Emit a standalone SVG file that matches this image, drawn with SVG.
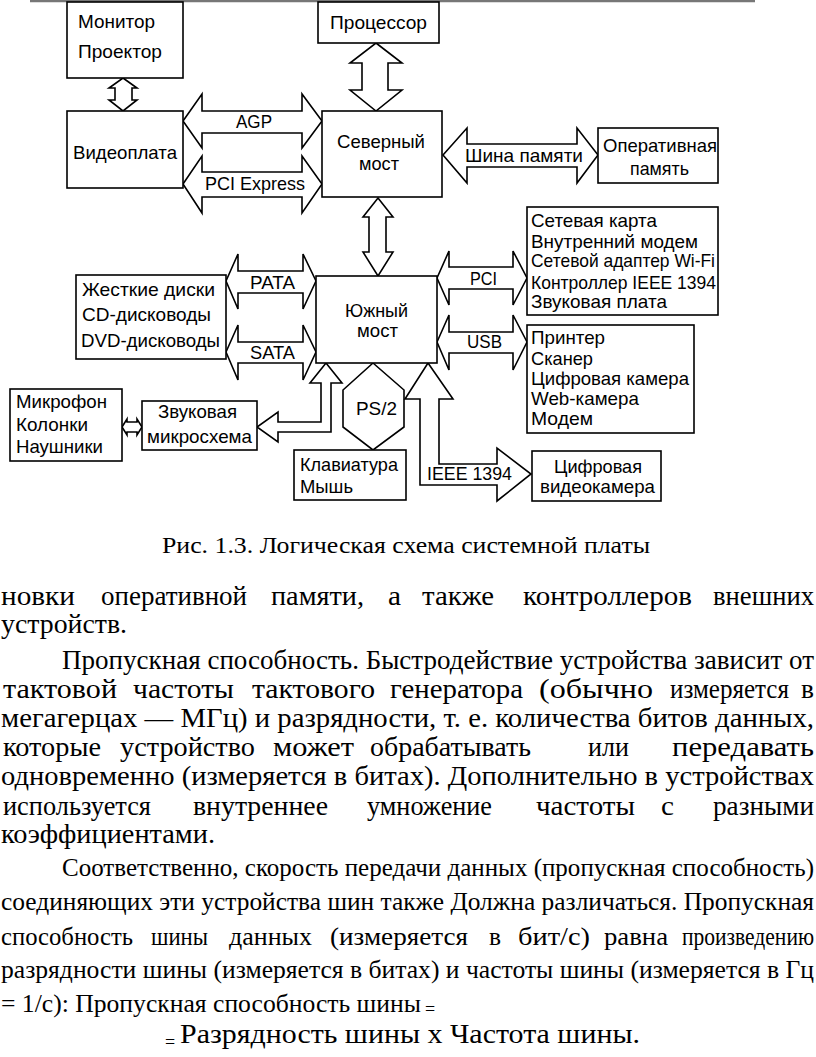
<svg xmlns="http://www.w3.org/2000/svg" width="816" height="1057" viewBox="0 0 816 1057">
<style>
.box{fill:#fff;stroke:#000;stroke-width:1.6}
.arr{fill:#fff;stroke:#000;stroke-width:1.6;stroke-linejoin:miter}
.lbl{font-family:"Liberation Sans",Arial,sans-serif;font-size:19px;fill:#000}
.body{font-family:"Liberation Serif","Times New Roman",serif;font-size:28px;fill:#000}
.body2{font-family:"Liberation Serif","Times New Roman",serif;font-size:26px;fill:#000}
.cap{font-family:"Liberation Serif","Times New Roman",serif;font-size:24px;fill:#000}
</style>
<rect width="816" height="1057" fill="#fff"/>
<line x1="30" y1="1" x2="755" y2="1" stroke="#777" stroke-width="2.5"/>

<g id="connectors">
  <polygon class="arr" points="123,78 137,88 132,88 132,100 137,100 123,111 109,100 115,100 115,88 109,88"/>
  <polygon class="arr" points="376,43 402,63 388,63 388,90 402,90 376,111 350,90 362,90 362,63 350,63"/>
  <polygon class="arr" points="183,121 202,94 202,111 302,111 302,94 322,121 302,148 302,133 202,133 202,148"/>
  <polygon class="arr" points="183,184 202,156 202,172 302,172 302,156 322,184 302,213 302,197 202,197 202,213"/>
  <polygon class="arr" points="443,155 467,128 467,144 577,144 577,128 598,155 577,183 577,167 467,167 467,183"/>
  <polygon class="arr" points="378,198 393,217 386,217 386,252 393,252 378,276 363,252 369,252 369,217 363,217"/>
  <polygon class="arr" points="226,281 238,254 238,271 303,271 303,254 316,281 303,309 303,293 238,293 238,309"/>
  <polygon class="arr" points="226,352 238,325 238,342 303,342 303,325 316,352 303,380 303,363 238,363 238,380"/>
  <polygon class="arr" points="437,278 449,251 449,267 513,267 513,251 527,278 513,305 513,289 449,289 449,305"/>
  <polygon class="arr" points="437,342 449,315 449,332 513,332 513,315 527,342 513,370 513,353 449,353 449,370"/>
  <polygon class="arr" points="326,363 342,383 331,383 331,432 278,432 278,442 257,427 278,412 278,422 321,422 321,383 310,383"/>
  <polygon class="arr" points="122,427 127,419 127,422 137,422 137,419 142,427 137,435 137,432 127,432 127,435"/>
  <polygon class="arr" points="373,363 404,390 404,427 373,450 343,427 343,390"/>
  <polygon class="arr" points="428,363 453,399 439,399 439,464 497,464 497,448 531,474 497,501 497,485 420,485 420,399 405,399"/>
  <line x1="328" y1="353" x2="335" y2="357" stroke="#000" stroke-width="1.5"/>
  <text class="lbl" x="236" y="128" textLength="36" lengthAdjust="spacingAndGlyphs">AGP</text>
  <text class="lbl" x="205" y="190" textLength="100" lengthAdjust="spacingAndGlyphs">PCI Express</text>
  <text class="lbl" x="465" y="162" textLength="118" lengthAdjust="spacingAndGlyphs">Шина памяти</text>
  <text class="lbl" x="250" y="289" textLength="45" lengthAdjust="spacingAndGlyphs">PATA</text>
  <text class="lbl" x="250" y="359" textLength="45" lengthAdjust="spacingAndGlyphs">SATA</text>
  <text class="lbl" x="470" y="285" textLength="27" lengthAdjust="spacingAndGlyphs">PCI</text>
  <text class="lbl" x="467" y="348" textLength="35" lengthAdjust="spacingAndGlyphs">USB</text>
  <text class="lbl" x="356" y="415" textLength="41" lengthAdjust="spacingAndGlyphs">PS/2</text>
  <text class="lbl" x="427" y="480" textLength="85" lengthAdjust="spacingAndGlyphs">IEEE 1394</text>
</g>

<g id="monitor">
  <rect class="box" x="67" y="2" width="116" height="76"/>
  <text class="lbl" x="78" y="28" textLength="77" lengthAdjust="spacingAndGlyphs">Монитор</text>
  <text class="lbl" x="78" y="58" textLength="84" lengthAdjust="spacingAndGlyphs">Проектор</text>
</g>
<g id="processor">
  <rect class="box" x="318" y="2" width="121" height="41"/>
  <text class="lbl" x="330" y="29" textLength="97" lengthAdjust="spacingAndGlyphs">Процессор</text>
</g>
<g id="videocard">
  <rect class="box" x="67" y="111" width="116" height="77"/>
  <text class="lbl" x="73" y="159" textLength="104" lengthAdjust="spacingAndGlyphs">Видеоплата</text>
</g>
<g id="northbridge">
  <rect class="box" x="322" y="111" width="120" height="86"/>
  <text class="lbl" x="337" y="148" textLength="88" lengthAdjust="spacingAndGlyphs">Северный</text>
  <text class="lbl" x="359" y="170" textLength="40" lengthAdjust="spacingAndGlyphs">мост</text>
</g>
<g id="ram">
  <rect class="box" x="598" y="128" width="120" height="55"/>
  <text class="lbl" x="603" y="152" textLength="114" lengthAdjust="spacingAndGlyphs">Оперативная</text>
  <text class="lbl" x="630" y="175" textLength="59" lengthAdjust="spacingAndGlyphs">память</text>
</g>
<g id="storage">
  <rect class="box" x="76" y="275" width="150" height="84"/>
  <text class="lbl" x="82" y="296" textLength="133" lengthAdjust="spacingAndGlyphs">Жесткие диски</text>
  <text class="lbl" x="82" y="321" textLength="129" lengthAdjust="spacingAndGlyphs">CD-дисководы</text>
  <text class="lbl" x="81" y="347" textLength="139" lengthAdjust="spacingAndGlyphs">DVD-дисководы</text>
</g>
<g id="southbridge">
  <rect class="box" x="316" y="276" width="121" height="87"/>
  <text class="lbl" x="345" y="317" textLength="63" lengthAdjust="spacingAndGlyphs">Южный</text>
  <text class="lbl" x="357" y="337" textLength="41" lengthAdjust="spacingAndGlyphs">мост</text>
</g>
<g id="pcidevices">
  <rect class="box" x="527" y="207" width="191" height="108"/>
  <text class="lbl" x="531" y="227" textLength="126" lengthAdjust="spacingAndGlyphs">Сетевая карта</text>
  <text class="lbl" x="531" y="248" textLength="167" lengthAdjust="spacingAndGlyphs">Внутренний модем</text>
  <text class="lbl" x="531" y="267" textLength="184" lengthAdjust="spacingAndGlyphs">Сетевой адаптер Wi-Fi</text>
  <text class="lbl" x="531" y="289" textLength="185" lengthAdjust="spacingAndGlyphs">Контроллер IEEE 1394</text>
  <text class="lbl" x="531" y="308" textLength="136" lengthAdjust="spacingAndGlyphs">Звуковая плата</text>
</g>
<g id="usbdevices">
  <rect class="box" x="527" y="325" width="167" height="108"/>
  <text class="lbl" x="531" y="344" textLength="74" lengthAdjust="spacingAndGlyphs">Принтер</text>
  <text class="lbl" x="531" y="365" textLength="62" lengthAdjust="spacingAndGlyphs">Сканер</text>
  <text class="lbl" x="531" y="385" textLength="158" lengthAdjust="spacingAndGlyphs">Цифровая камера</text>
  <text class="lbl" x="531" y="405" textLength="108" lengthAdjust="spacingAndGlyphs">Web-камера</text>
  <text class="lbl" x="531" y="425" textLength="62" lengthAdjust="spacingAndGlyphs">Модем</text>
</g>
<g id="audio">
  <rect class="box" x="10" y="389" width="112" height="72"/>
  <text class="lbl" x="16" y="408" textLength="91" lengthAdjust="spacingAndGlyphs">Микрофон</text>
  <text class="lbl" x="16" y="431" textLength="72" lengthAdjust="spacingAndGlyphs">Колонки</text>
  <text class="lbl" x="16" y="453" textLength="87" lengthAdjust="spacingAndGlyphs">Наушники</text>
</g>
<g id="soundchip">
  <rect class="box" x="142" y="401" width="115" height="49"/>
  <text class="lbl" x="158" y="418" textLength="79" lengthAdjust="spacingAndGlyphs">Звуковая</text>
  <text class="lbl" x="147" y="443" textLength="105" lengthAdjust="spacingAndGlyphs">микросхема</text>
</g>
<g id="keyboard">
  <rect class="box" x="294" y="450" width="112" height="50"/>
  <text class="lbl" x="300" y="471" textLength="98" lengthAdjust="spacingAndGlyphs">Клавиатура</text>
  <text class="lbl" x="300" y="493" textLength="53" lengthAdjust="spacingAndGlyphs">Мышь</text>
</g>
<g id="videocamera">
  <rect class="box" x="532" y="451" width="129" height="50"/>
  <text class="lbl" x="554" y="473" textLength="88" lengthAdjust="spacingAndGlyphs">Цифровая</text>
  <text class="lbl" x="540" y="493" textLength="115" lengthAdjust="spacingAndGlyphs">видеокамера</text>
</g>

<g id="caption">
  <text class="cap" x="162" y="553" textLength="488" lengthAdjust="spacingAndGlyphs">Рис. 1.3. Логическая схема системной платы</text>
</g>

<g id="bodytext">
  <text class="body" y="605"><tspan x="1" textLength="74" lengthAdjust="spacingAndGlyphs">новки</tspan> <tspan x="101" textLength="146" lengthAdjust="spacingAndGlyphs">оперативной</tspan> <tspan x="271" textLength="93" lengthAdjust="spacingAndGlyphs">памяти,</tspan> <tspan x="388" textLength="13" lengthAdjust="spacingAndGlyphs">а</tspan> <tspan x="422" textLength="72" lengthAdjust="spacingAndGlyphs">также</tspan> <tspan x="523" textLength="169" lengthAdjust="spacingAndGlyphs">контроллеров</tspan> <tspan x="713" textLength="101" lengthAdjust="spacingAndGlyphs">внешних</tspan></text>
  <text class="body" x="1" y="633" textLength="126" lengthAdjust="spacingAndGlyphs">устройств.</text>
  <text class="body" x="62" y="669" textLength="752" lengthAdjust="spacingAndGlyphs">Пропускная способность. Быстродействие устройства зависит от</text>
  <text class="body" y="698"><tspan x="3" textLength="114" lengthAdjust="spacingAndGlyphs">тактовой</tspan> <tspan x="133" textLength="101" lengthAdjust="spacingAndGlyphs">частоты</tspan> <tspan x="252" textLength="123" lengthAdjust="spacingAndGlyphs">тактового</tspan> <tspan x="390" textLength="133" lengthAdjust="spacingAndGlyphs">генератора</tspan> <tspan x="539" textLength="114" lengthAdjust="spacingAndGlyphs">(обычно</tspan> <tspan x="670" textLength="119" lengthAdjust="spacingAndGlyphs">измеряется</tspan> <tspan x="801" textLength="13" lengthAdjust="spacingAndGlyphs">в</tspan></text>
  <text class="body" x="1" y="727" textLength="813" lengthAdjust="spacingAndGlyphs">мегагерцах — МГц) и разрядности, т. е. количества битов данных,</text>
  <text class="body" y="756"><tspan x="3" textLength="98" lengthAdjust="spacingAndGlyphs">которые</tspan> <tspan x="120" textLength="135" lengthAdjust="spacingAndGlyphs">устройство</tspan> <tspan x="273" textLength="81" lengthAdjust="spacingAndGlyphs">может</tspan> <tspan x="370" textLength="161" lengthAdjust="spacingAndGlyphs">обрабатывать</tspan> <tspan x="588" textLength="41" lengthAdjust="spacingAndGlyphs">или</tspan> <tspan x="672" textLength="142" lengthAdjust="spacingAndGlyphs">передавать</tspan></text>
  <text class="body" x="1" y="785" textLength="813" lengthAdjust="spacingAndGlyphs">одновременно (измеряется в битах). Дополнительно в устройствах</text>
  <text class="body" y="815"><tspan x="3" textLength="148" lengthAdjust="spacingAndGlyphs">используется</tspan> <tspan x="193" textLength="135" lengthAdjust="spacingAndGlyphs">внутреннее</tspan> <tspan x="367" textLength="125" lengthAdjust="spacingAndGlyphs">умножение</tspan> <tspan x="536" textLength="99" lengthAdjust="spacingAndGlyphs">частоты</tspan> <tspan x="661" textLength="13" lengthAdjust="spacingAndGlyphs">с</tspan> <tspan x="713" textLength="101" lengthAdjust="spacingAndGlyphs">разными</tspan></text>
  <text class="body" x="1" y="843" textLength="214" lengthAdjust="spacingAndGlyphs">коэффициентами.</text>
  <text class="body2" x="62" y="876" textLength="752" lengthAdjust="spacingAndGlyphs">Соответственно, скорость передачи данных (пропускная способность)</text>
  <text class="body2" x="1" y="910" textLength="813" lengthAdjust="spacingAndGlyphs">соединяющих эти устройства шин также Должна различаться. Пропускная</text>
  <text class="body2" y="945"><tspan x="1" textLength="132" lengthAdjust="spacingAndGlyphs">способность</tspan> <tspan x="151" textLength="57" lengthAdjust="spacingAndGlyphs">шины</tspan> <tspan x="229" textLength="83" lengthAdjust="spacingAndGlyphs">данных</tspan> <tspan x="330" textLength="138" lengthAdjust="spacingAndGlyphs">(измеряется</tspan> <tspan x="489" textLength="12" lengthAdjust="spacingAndGlyphs">в</tspan> <tspan x="518" textLength="72" lengthAdjust="spacingAndGlyphs">бит/с)</tspan> <tspan x="604" textLength="64" lengthAdjust="spacingAndGlyphs">равна</tspan> <tspan x="682" textLength="132" lengthAdjust="spacingAndGlyphs">произведению</tspan></text>
  <text class="body2" x="1" y="978" textLength="813" lengthAdjust="spacingAndGlyphs">разрядности шины (измеряется в битах) и частоты шины (измеряется в Гц</text>
  <text class="body2" x="1" y="1012"><tspan textLength="420" lengthAdjust="spacingAndGlyphs">= 1/с): Пропускная способность шины</tspan><tspan x="425" y="1015" font-size="18">=</tspan></text>
  <text class="body" x="165" y="1045"><tspan font-size="18" y="1048">=</tspan><tspan x="180" y="1043" textLength="460" lengthAdjust="spacingAndGlyphs">Разрядность шины х Частота шины.</tspan></text>
</g>
</svg>
